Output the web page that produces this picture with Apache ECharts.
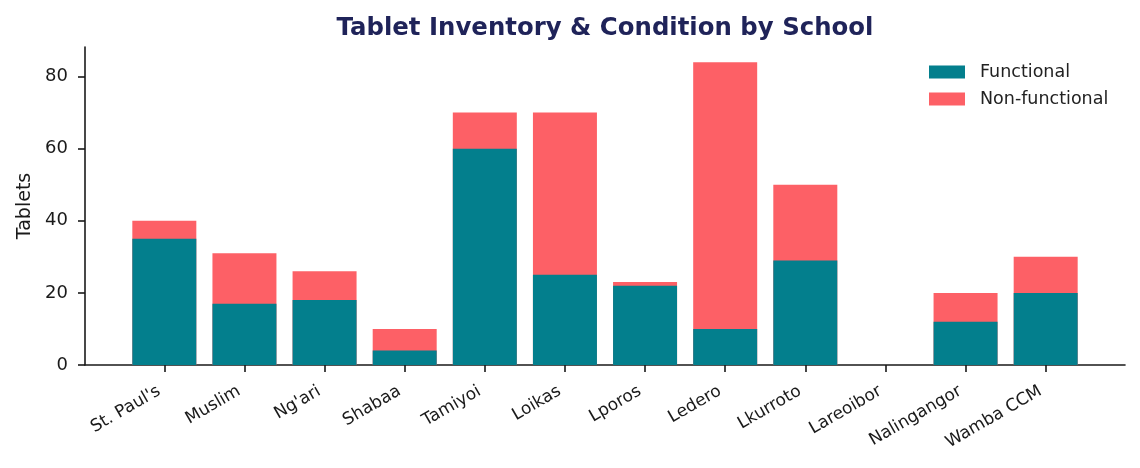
<!DOCTYPE html>
<html>
<head>
<meta charset="utf-8">
<script src="https://cdn.jsdelivr.net/npm/echarts@6/dist/echarts.min.js"></script>
<style>
html,body{margin:0;padding:0;background:#fff;}
#chart{width:1140px;height:468px;}
</style>
</head>
<body>
<div id="chart"></div>
<script>
const schools = ["St. Paul's", "Muslim", "Ng'ari", "Shabaa", "Tamiyoi", "Loikas", "Lporos", "Ledero", "Lkurroto", "Lareoibor", "Nalingangor", "Wamba CCM"];
const functional = [35, 17, 18, 4, 60, 25, 22, 10, 29, 0, 12, 20];
const nonFunctional = [5, 14, 8, 6, 10, 45, 1, 74, 21, 0, 8, 10];
const yTicks = [0, 20, 40, 60, 80];

const FONT = 'DejaVu Sans';
const idx = schools.map((_, i) => i);
// stacked top of each bar = functional + non-functional (non-functional sits on top)
const totals = functional.map((v, i) => v + nonFunctional[i]);
const chart = echarts.init(document.getElementById('chart'), null, {renderer: 'canvas'});
chart.setOption({
  animation: false,
  backgroundColor: '#ffffff',
  title: {
    text: 'Tablet Inventory & Condition by School',
    left: 600, top: 12, textAlign: 'center',
    textStyle: {fontFamily: FONT, fontSize: 24.4, fontWeight: 'bold', color: '#1f2359'}
  },
  legend: {
    orient: 'vertical', left: 929, top: 63, padding: 0,
    itemWidth: 36, itemHeight: 13, itemGap: 9,
    icon: 'rect',
    textStyle: {fontFamily: FONT, fontSize: 17.5, color: '#222', padding: [0, 0, 0, 10]},
    data: ['Functional', 'Non-functional']
  },
  grid: {left: 85, right: 15, top: 47, bottom: 103, containLabel: false},
  xAxis: {
    type: 'value', min: -0.99, max: 11.99,
    splitLine: {show: false},
    axisLine: {show: true, onZero: false, lineStyle: {color: '#1a1a1a', width: 1.6}},
    axisTick: {show: true, length: 7, lineStyle: {color: '#1a1a1a', width: 1.6}, customValues: idx},
    axisLabel: {
      customValues: idx, rotate: 30, margin: 22, padding: [0, 6, 0, 0],
      fontFamily: FONT, fontSize: 17, color: '#1a1a1a',
      formatter: v => schools[Math.round(v)]
    }
  },
  yAxis: {
    type: 'value', min: 0, max: 88.2, interval: 20,
    name: 'Tablets', nameLocation: 'middle', nameGap: 50, nameRotate: 90,
    nameTextStyle: {fontFamily: FONT, fontSize: 19, color: '#1a1a1a'},
    splitLine: {show: false},
    axisLine: {show: true, onZero: false, lineStyle: {color: '#1a1a1a', width: 1.6}},
    axisTick: {show: true, length: 7, lineStyle: {color: '#1a1a1a', width: 1.6}, customValues: yTicks},
    axisLabel: {customValues: yTicks, margin: 17, fontFamily: FONT, fontSize: 18, color: '#1a1a1a'}
  },
  series: [
    {
      name: 'Non-functional', type: 'bar', barWidth: 64, barGap: '-100%', z: 2,
      itemStyle: {color: '#fd6066'},
      data: totals.map((v, i) => [i, v])
    },
    {
      name: 'Functional', type: 'bar', barWidth: 64, barGap: '-100%', z: 3,
      itemStyle: {color: '#037f8d'},
      data: functional.map((v, i) => [i, v])
    }
  ]
});
</script>
</body>
</html>
